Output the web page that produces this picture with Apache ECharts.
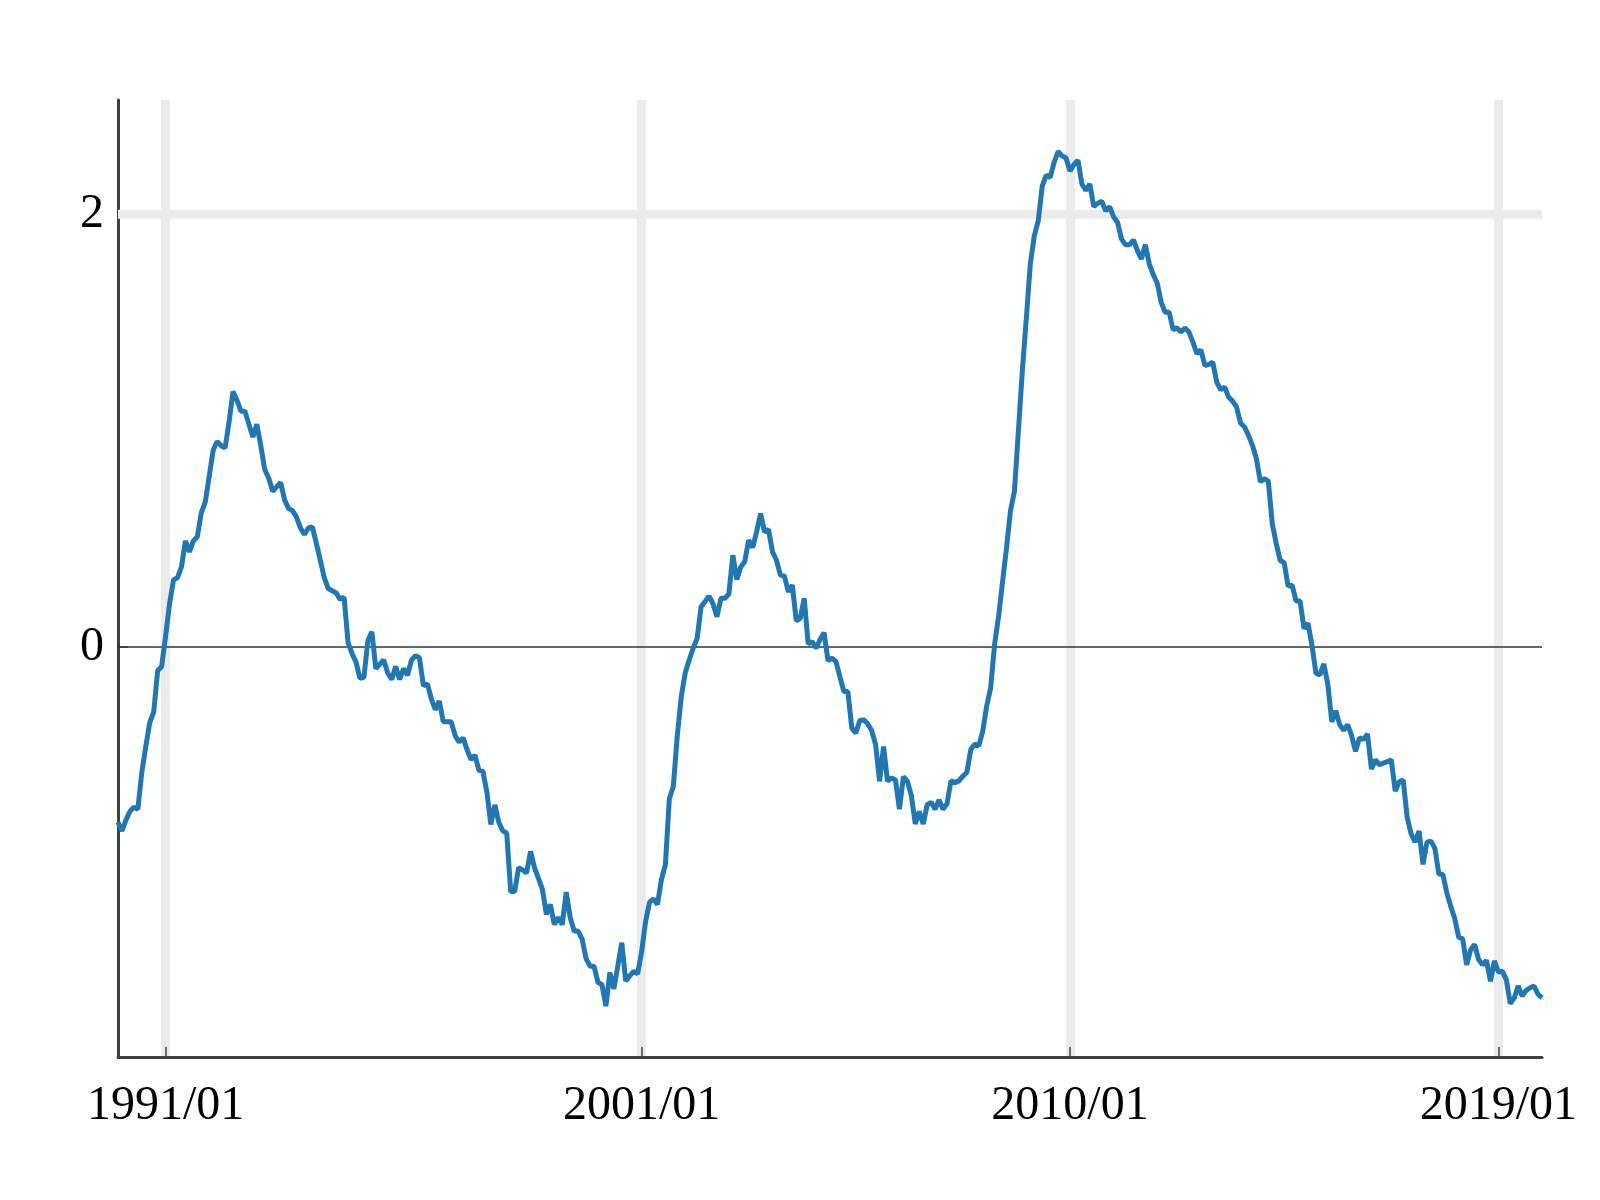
<!DOCTYPE html>
<html>
<head>
<meta charset="utf-8">
<script src="https://cdn.jsdelivr.net/npm/echarts@6/dist/echarts.min.js"></script>
<style>
  html, body { margin: 0; padding: 0; background: #fff; }
  #main { width: 1600px; height: 1200px; }
</style>
</head>
<body>
<div id="main"></div>
<script>
// monthly series, 1990/01 .. 2019/12
const startYear = 1990;
const values1990s = [
  -0.81, -0.85, -0.80, -0.76, -0.74, -0.75, -0.58, -0.46, -0.35, -0.30, -0.11, -0.09,
  0.05, 0.20, 0.31, 0.32, 0.37, 0.49, 0.44, 0.49, 0.51, 0.62, 0.67, 0.79,
  0.91, 0.95, 0.93, 0.92, 1.04, 1.18, 1.14, 1.09, 1.09, 1.03, 0.97, 1.03,
  0.93, 0.82, 0.78, 0.72, 0.74, 0.76, 0.68, 0.64, 0.63, 0.60, 0.55, 0.52,
  0.55, 0.555, 0.48, 0.40, 0.32, 0.27, 0.26, 0.25, 0.22, 0.23, 0.02, -0.03,
  -0.07, -0.145, -0.14, 0.03, 0.07, -0.10, -0.08, -0.06, -0.12, -0.15, -0.09, -0.15,
  -0.10, -0.13, -0.06, -0.04, -0.05, -0.18, -0.17, -0.24, -0.29, -0.25, -0.345, -0.345,
  -0.345, -0.41, -0.44, -0.42, -0.475, -0.52, -0.50, -0.57, -0.575, -0.67, -0.82, -0.73,
  -0.81, -0.85, -0.86, -1.13, -1.13, -1.02, -1.03, -1.045, -0.945, -1.02, -1.07, -1.12,
  -1.236, -1.19, -1.283, -1.25, -1.283, -1.133, -1.25, -1.313, -1.313, -1.35, -1.44, -1.475
];
const values2000s = [
  -1.475, -1.55, -1.56, -1.66, -1.505, -1.58, -1.475, -1.367, -1.544, -1.52, -1.50, -1.51,
  -1.41, -1.27, -1.18, -1.164, -1.19, -1.075, -1.006, -0.70, -0.645, -0.41, -0.23, -0.12,
  -0.06, -0.006, 0.04, 0.186, 0.21, 0.235, 0.20, 0.14, 0.225, 0.225, 0.245, 0.424,
  0.312, 0.37, 0.394, 0.494, 0.46, 0.532, 0.617, 0.532, 0.543, 0.44, 0.401, 0.332,
  0.328, 0.255, 0.286, 0.121, 0.132, 0.225, 0.014, 0.025, -0.006, 0.035, 0.066, -0.063,
  -0.052, -0.068, -0.137, -0.206, -0.206, -0.375, -0.398, -0.34, -0.337, -0.355, -0.386, -0.452,
  -0.621, -0.46, -0.62, -0.606, -0.614, -0.75, -0.60, -0.62, -0.686, -0.818, -0.76, -0.818,
  -0.729, -0.718, -0.75, -0.707, -0.75, -0.724, -0.619, -0.627, -0.619, -0.597, -0.58, -0.474,
  -0.449, -0.457, -0.39, -0.273, -0.189, 0.013, 0.14, 0.30, 0.458, 0.63, 0.72, 1.0,
  1.28, 1.52, 1.77, 1.90, 1.97, 2.13, 2.18, 2.17, 2.24, 2.29, 2.27, 2.26
];
const values2010s = [
  2.20, 2.23, 2.25, 2.14, 2.11, 2.14, 2.035, 2.05, 2.06, 2.016, 2.035, 1.988,
  1.962, 1.885, 1.859, 1.859, 1.881, 1.832, 1.793, 1.859, 1.77, 1.721, 1.681, 1.593,
  1.547, 1.547, 1.466, 1.475, 1.455, 1.475, 1.455, 1.409, 1.355, 1.373, 1.301, 1.306,
  1.316, 1.224, 1.189, 1.201, 1.155, 1.136, 1.109, 1.035, 1.017, 0.978, 0.932, 0.87,
  0.763, 0.778, 0.767, 0.57, 0.478, 0.40, 0.39, 0.281, 0.286, 0.213, 0.213, 0.085,
  0.11, 0.008, -0.12, -0.129, -0.078, -0.172, -0.346, -0.295, -0.359, -0.385, -0.359, -0.41,
  -0.482, -0.419, -0.428, -0.402, -0.564, -0.521, -0.544, -0.537, -0.53, -0.521, -0.666, -0.623,
  -0.615, -0.786, -0.863, -0.902, -0.851, -1.005, -0.902, -0.897, -0.931, -1.05, -1.05, -1.136,
  -1.199, -1.255, -1.341, -1.349, -1.469, -1.40, -1.375, -1.443, -1.469, -1.448, -1.545, -1.451,
  -1.502, -1.499, -1.537, -1.648, -1.622, -1.567, -1.613, -1.588, -1.575, -1.567, -1.605, -1.622
];
const xTickLabels = ["1991/01", "2001/01", "2010/01", "2019/01"];
const yTickValues = [0, 2];
const gridValue = 2;
const zeroValue = 0;

const values = values1990s.concat(values2000s, values2010s);
const months = [];
for (let i = 0; i < values.length; i++) {
  const y = startYear + Math.floor(i / 12);
  const m = (i % 12) + 1;
  months.push(y + "/" + (m < 10 ? "0" + m : m));
}
const first = months[0];
const last = months[months.length - 1];

const showTick = (index, value) => xTickLabels.indexOf(value) >= 0;
const axisColor = "#404040";
const font = "'Liberation Serif', 'Times New Roman', serif";

const chart = echarts.init(document.getElementById("main"));
chart.setOption({
  animation: false,
  backgroundColor: "#fff",
  grid: { left: 118, right: 58, top: 100, bottom: 143, outerBoundsMode: "none", containLabel: false },
  xAxis: {
    type: "category",
    data: months,
    boundaryGap: false,
    axisLine: { onZero: false, lineStyle: { color: axisColor, width: 3 } },
    axisTick: { show: true, inside: true, length: 10, interval: showTick, lineStyle: { color: axisColor, width: 1.5 } },
    axisLabel: { interval: showTick, margin: 25, color: "#000", fontFamily: font, fontSize: 48 },
    splitLine: { show: true, interval: showTick, lineStyle: { color: "#ebebeb", width: 9 } }
  },
  yAxis: {
    type: "value",
    min: -1.895,
    max: 2.528,
    axisLine: { show: true, lineStyle: { color: axisColor, width: 3 } },
    axisTick: { show: true, inside: true, length: 10, customValues: yTickValues, lineStyle: { color: axisColor, width: 1.5 } },
    axisLabel: { customValues: yTickValues, margin: 14, color: "#000", fontFamily: font, fontSize: 48 },
    splitLine: { show: false }
  },
  series: [
    {
      name: "grid",
      type: "line",
      z: 1,
      silent: true,
      symbol: "none",
      data: [[first, gridValue], [last, gridValue]],
      lineStyle: { color: "#ebebeb", width: 9 }
    },
    {
      name: "zero",
      type: "line",
      z: 1,
      silent: true,
      symbol: "none",
      data: [[first, zeroValue], [last, zeroValue]],
      lineStyle: { color: "#333333", width: 1.5 }
    },
    {
      name: "value",
      type: "line",
      z: 3,
      symbol: "none",
      data: values,
      lineStyle: { color: "#1f77b4", width: 5 }
    }
  ]
});
</script>
</body>
</html>
